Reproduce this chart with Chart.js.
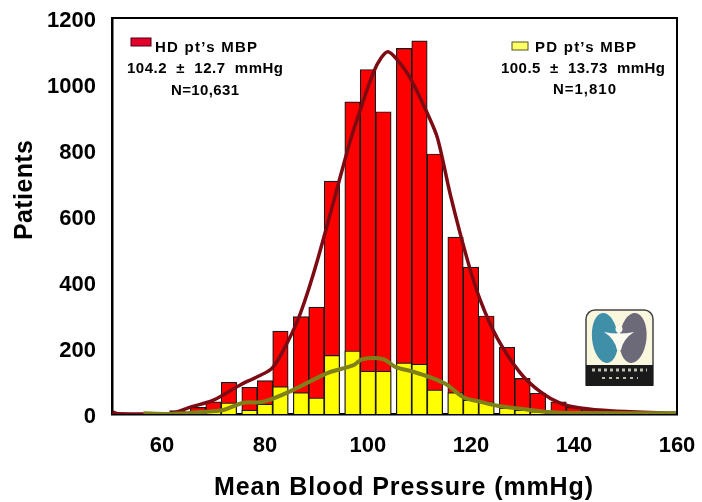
<!DOCTYPE html>
<html><head><meta charset="utf-8">
<style>html,body{margin:0;padding:0;background:#fff}#w{position:absolute;left:0;top:0;width:702px;height:502px}</style>
<script src="https://cdn.jsdelivr.net/npm/chart.js@4"></script>
</head><body><div id="w"><canvas id="c" width="702" height="502"></canvas></div>
<script>
const binCenters=[60,63,67,70,73,77,80,83,87,90,93,97,100,103,107,110,113,117,120,123,127,130,133,137,140,143,147,150,153,157,160];
const hdTotals=[3,10,20,37,96,81,101,251,295,324,706,946,1044,916,1108,1131,788,536,445,297,202,108,63,37,20,14,10,6,4,3,2];
const pdTotals=[0,0,3,12,34,12,30,83,65,49,178,191,130,130,155,151,73,65,42,37,18,12,7,3,2,1,1,0,0,0,0];
const hdCurveX=[50.4,51.5,61.6,65.5,70,75.2,78.5,81.4,84.3,86.9,90.2,96.6,98.5,101,102.5,103.9,105.7,108.2,111.5,113.5,116,119.3,121.8,125.1,129.6,133.5,137.3,141.2,147.6,160];
const hdCurveY=[6,1,1,21,42,88,113,139,215,306,467,830,921,1033,1078,1098,1073,1018,912,836,664,467,345,230,124,67,33,18,9,2];
const pdCurveX=[56.4,61,67.4,71.9,75.8,79.7,85.5,92.1,97.2,98.9,103,105.3,108.8,112.1,115.4,118.5,121.8,125.1,130.2,134.9,139.9,160];
const pdCurveY=[2,0,6,12,34,37,73,124,148,166,166,143,128,111,88,51,37,25,15,6,3,2];
const xTicks=[60,80,100,120,140,160];
const yTicks=[0,200,400,600,800,1000,1200];
const xTitle="Mean Blood Pressure (mmHg)";
const yTitle="Patients";
const hdNote=["HD pt\u2019s MBP","104.2  \u00B1  12.7  mmHg","N=10,631"];
const pdNote=["PD pt\u2019s MBP","100.5  \u00B1  13.73  mmHg","N=1,810"];

const pairs=(xs,ys)=>xs.map((x,i)=>({x,y:ys[i]}));
const F='"Liberation Sans",Arial,sans-serif';

const deco={id:'deco',
 afterDraw(ch){
  const c=ch.ctx,a=ch.chartArea;
  c.save();
  c.strokeStyle='#000';c.lineWidth=2;
  c.beginPath();c.moveTo(a.left,a.top);c.lineTo(a.right,a.top);c.lineTo(a.right,a.bottom);c.stroke();
  c.fillStyle='#000';c.textBaseline='alphabetic';c.textAlign='left';
  const fit=(s,x,y,w,font)=>{c.font=font;c.letterSpacing='0px';
    const m=c.measureText(s).width;const ls=(w-m)/Math.max(1,s.length-1);
    c.letterSpacing=ls.toFixed(2)+'px';c.fillText(s,x,y);c.letterSpacing='0px';};
  const nf='bold 15px '+F;
  c.fillStyle='#e4002b';c.fillRect(131,38,20,8);c.strokeStyle='#4a0010';c.lineWidth=1;c.strokeRect(131,38,20,8);
  c.fillStyle='#ffff66';c.fillRect(512,42,16,8);c.strokeStyle='#555520';c.strokeRect(512,42,16,8);
  c.fillStyle='#000';
  fit(hdNote[0],155,52,102,nf);fit(hdNote[1],127,73,156,nf);fit(hdNote[2],171,95,68,nf);
  fit(pdNote[0],535,52,101,nf);fit(pdNote[1],501,73,164,nf);fit(pdNote[2],553,94,63,nf);
  // axis titles
  fit(xTitle,214,495,379,'bold 25px '+F);
  c.save();c.translate(32,240);c.rotate(-Math.PI/2);fit(yTitle,0,0,100,'bold 25px '+F);c.restore();
  // kidney logo
  c.fillStyle='#faf7df';c.strokeStyle='#444';c.lineWidth=1.5;
  c.beginPath();c.roundRect(586,310,67,75,[9,9,0,0]);c.fill();c.stroke();
  c.fillStyle='#1a1a1a';c.fillRect(586,365,67,21);
  c.strokeStyle='#bdbdb0';c.lineWidth=3;c.setLineDash([3,3]);
  c.beginPath();c.moveTo(592,370);c.lineTo(647,370);c.stroke();
  c.lineWidth=2;c.setLineDash([3,4]);c.beginPath();c.moveTo(602,378);c.lineTo(638,378);c.stroke();c.setLineDash([]);
  c.fillStyle='#3f8fa8';c.beginPath();c.ellipse(605,338,13,25,-0.1,0,7);c.fill();
  c.fillStyle='#6c6a78';c.beginPath();c.ellipse(633,338,13.5,25,0.1,0,7);c.fill();
  c.fillStyle='#fbfaf0';c.beginPath();c.moveTo(604,332);c.quadraticCurveTo(619,335,634,332);
  c.quadraticCurveTo(623,339,621,350);c.lineTo(617,350);c.quadraticCurveTo(615,339,604,332);c.fill();
  c.beginPath();c.arc(619,329,3.5,0,7);c.fill();
  c.restore();
 }};

new Chart(document.getElementById('c'),{
 type:'bar',
 data:{datasets:[
  {type:'line',data:pairs(hdCurveX,hdCurveY),borderColor:'#7d0b14',borderWidth:3.5,pointRadius:0,tension:0.3,order:2},
  {type:'line',data:pairs(pdCurveX,pdCurveY),borderColor:'#80801a',borderWidth:4,pointRadius:0,tension:0.3,order:1},
  {type:'bar',data:pairs(binCenters,pdTotals),backgroundColor:'#ffff00',borderColor:'#1a1a1a',borderWidth:1.2,barPercentage:1,categoryPercentage:1,grouped:false,order:3},
  {type:'bar',data:pairs(binCenters,hdTotals),backgroundColor:'#ff0000',borderColor:'#1a1a1a',borderWidth:1.2,barPercentage:1,categoryPercentage:1,grouped:false,order:4}
 ]},
 options:{
  responsive:false,animation:false,
  layout:{padding:{left:0,right:25,top:18,bottom:0}},
  plugins:{legend:{display:false},tooltip:{enabled:false}},
  scales:{
   x:{type:'linear',offset:false,min:50.3,max:160,
    afterBuildTicks(s){s.ticks=xTicks.map(v=>({value:v}));},
    afterFit(s){s.height=88;s.paddingLeft=0;s.paddingRight=0;},
    grid:{display:false,drawTicks:true,tickLength:5,tickColor:'#000',tickWidth:2},
    border:{color:'#000',width:2.5},
    ticks:{color:'#000',font:{family:F,weight:'bold',size:22},padding:14,maxRotation:0,autoSkip:false},
    title:{display:false}
   },
   y:{min:0,max:1200,
    afterBuildTicks(s){s.ticks=yTicks.map(v=>({value:v}));},
    afterFit(s){
     s.width=112;s.paddingTop=0;s.paddingBottom=0;
     if(!s._shifted){s._shifted=true;const o=s._computeLabelItems;
      s._computeLabelItems=function(ca){const r=o.call(this,ca);r.forEach(it=>{it.options.translation[1]+=2.5;});return r;};}
    },
    grid:{display:false,tickLength:5,tickColor:'#000',tickWidth:2},
    border:{color:'#000',width:2.5},
    ticks:{color:'#000',font:{family:F,weight:'bold',size:22},padding:11,autoSkip:false,callback:v=>String(v)},
    title:{display:false}
   }
  }
 },
 plugins:[deco]
});
</script></body></html>
